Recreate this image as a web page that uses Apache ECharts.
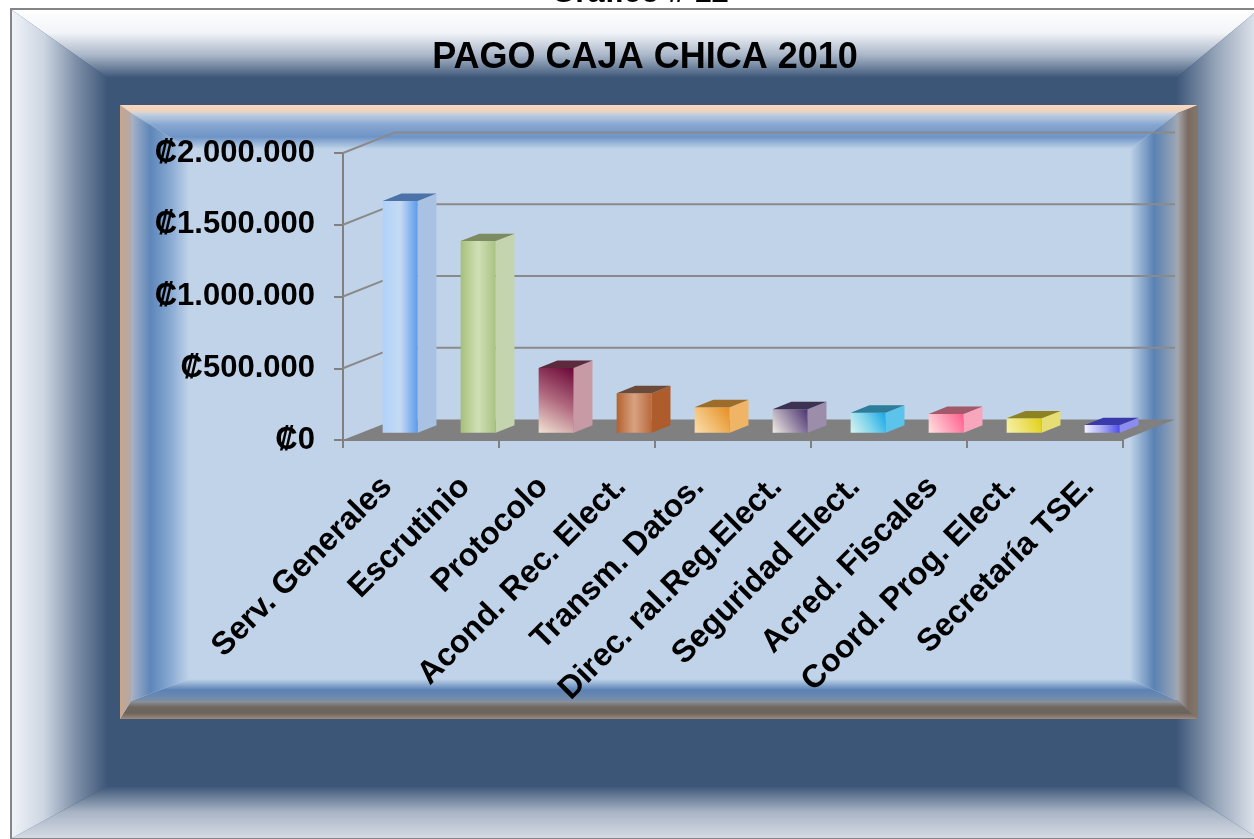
<!DOCTYPE html>
<html>
<head>
<meta charset="utf-8">
<title>Pago caja chica 2010</title>
<script src="https://cdn.jsdelivr.net/npm/echarts@6/dist/echarts.min.js"></script>
<style>
  html, body { margin: 0; padding: 0; background: #fff; }
  #chart { width: 1254px; height: 839px; }
</style>
</head>
<body>
<div id="chart"></div>
<script>
// datos del gráfico
const categories = ['Serv. Generales', 'Escrutinio', 'Protocolo', 'Acond. Rec. Elect.', 'Transm. Datos.',
  'Direc. ral.Reg.Elect.', 'Seguridad Elect.', 'Acred. Fiscales', 'Coord. Prog. Elect.', 'Secretaría TSE.']
const pagos = [1615000, 1336000, 452000, 276000, 178000, 164000, 140000, 131000, 101000, 54000]
const yTicks = [0, 500000, 1000000, 1500000, 2000000]

// falso 3D: desplazamiento de la pared del fondo
const DEPTH = { x: 52, y: -20.6 }
const BAR_Z0 = 0.35
const BAR_Z1 = 0.71
const BAR_FRAC = 0.45
const FONT = '"Liberation Sans", Arial, sans-serif'

// colores de cada barra: frente (degradado), lado, tapa
const barStyles = [
  { dir: [0, 0, 1, 0], front: ['#B0D2FA', '#C6DAF2', '#5C9AEE'], side: '#A9C2E4', top: '#4C73A8' },
  { dir: [0, 0, 1, 0], front: ['#A6C07A', '#D0E0B6', '#A8C282'], side: '#C4D4AE', top: '#7D8B62' },
  { dir: [0, 1, 1, 0], front: ['#F2E4D4', '#B0687E', '#6A0636'], side: '#C79AA6', top: '#5C2A3C' },
  { dir: [0, 0, 1, 0], front: ['#B4622E', '#D8A282', '#B8693A'], side: '#AE5C2C', top: '#6C4A3A' },
  { dir: [0, 1, 1, 0], front: ['#FADFAE', '#F0B868', '#E68E22'], side: '#F0B466', top: '#9C6C2A' },
  { dir: [0, 1, 1, 0], front: ['#F2EEE4', '#9C8EAA', '#4A326E'], side: '#9C8EAA', top: '#3C3252' },
  { dir: [0, 1, 1, 0], front: ['#DAF4F0', '#7ED4EC', '#16A6E6'], side: '#5CC4EA', top: '#2C7C9A' },
  { dir: [0, 1, 1, 0], front: ['#FFE2E2', '#FFA0B8', '#FF5C8C'], side: '#F7A6BC', top: '#A25A6A' },
  { dir: [0, 1, 1, 0], front: ['#F6F2A8', '#EEE066', '#E0D014'], side: '#E6DE72', top: '#8C8222' },
  { dir: [0, 0, 1, 0], front: ['#F2F2FF', '#A8A8F4', '#4E4EE8'], side: '#8C8CF0', top: '#3A3AAA' }
]

function grad (dir, colors) {
  const stops = colors.map((c, i) => ({ offset: i / (colors.length - 1), color: c }))
  return new echarts.graphic.LinearGradient(dir[0], dir[1], dir[2], dir[3], stops)
}

// marco biselado: cuatro trapecios con degradado de fuera hacia dentro
function bevel (x0, y0, x1, y1, w, c) {
  const li = x0 + w.l, ri = x1 - w.r, ti = y0 + w.t, bi = y1 - w.b
  const part = (pts, dir, colors) => ({
    type: 'polygon', z: -10, silent: true,
    shape: { points: pts },
    style: { fill: grad(dir, colors) }
  })
  return [
    part([[x0, y0], [x1, y0], [ri, ti], [li, ti]], [0, 0, 0, 1], c.t),
    part([[x0, y1], [x1, y1], [ri, bi], [li, bi]], [0, 1, 0, 0], c.b),
    part([[x0, y0], [li, ti], [li, bi], [x0, y1]], [0, 0, 1, 0], c.l),
    part([[x1, y0], [ri, ti], [ri, bi], [x1, y1]], [1, 0, 0, 0], c.r)
  ]
}

const background = [
  { type: 'rect', z: -11, silent: true, shape: { x: 12, y: 10, width: 1250, height: 829 }, style: { fill: '#3C5678' } },
  ...bevel(12, 10, 1258, 838, { l: 96, t: 68, r: 82, b: 52 }, {
    t: ['#FFFFFF', '#F2F4F8', '#A9B6C8', '#3C5678'],
    l: ['#F0F3F8', '#CCD5E1', '#7D8FA8', '#3C5678'],
    b: ['#D4DBE4', '#A8B4C4', '#3C5678'],
    r: ['#E2E7EE', '#97A6BA', '#3C5678']
  }),
  { type: 'rect', z: -9, silent: true, shape: { x: 11, y: 9, width: 1250, height: 830 }, style: { fill: 'none', stroke: '#858585', lineWidth: 2 } },
  // panel interior
  { type: 'rect', z: -11, silent: true, shape: { x: 120, y: 105, width: 1078, height: 614 }, style: { fill: '#C0D3E8' } },
  ...bevel(120, 105, 1198, 719, { l: 11, t: 8, r: 20, b: 18 }, {
    t: ['#FAD9BE', '#E6D0C2'],
    l: ['#C8A68C', '#B2A8AA'],
    b: ['#A08A7A', '#6B635D', '#70685F', '#8F959E'],
    r: ['#86766A', '#7A6C62', '#A6A4AA']
  }),
  ...bevel(131, 113, 1178, 701, { l: 58, t: 36, r: 48, b: 22 }, {
    t: ['#C8D4E4', '#86A6D0', '#6E94C6', '#C0D3E8'],
    l: ['#A8B4C8', '#5E86B8', '#86A8D2', '#C0D3E8'],
    b: ['#7A8EA8', '#5A82B6', '#C0D3E8'],
    r: ['#A0A8B4', '#5A82B4', '#C0D3E8']
  }),
  // "Gráfico # 12" queda casi fuera del recorte, como en el original
  {
    type: 'text', z: 5, silent: true, x: 640, y: -22,
    style: { text: 'Gráfico # 12', fill: '#000', font: 'bold 31px ' + FONT, align: 'center', verticalAlign: 'top' }
  }
]

const chart = echarts.init(document.getElementById('chart'), null, { renderer: 'canvas' })

const option = {
  animation: false,
  backgroundColor: '#fff',
  title: {
    text: 'PAGO CAJA CHICA 2010',
    left: 640,
    textAlign: 'center',
    top: 35,
    textStyle: { color: '#000', fontFamily: FONT, fontWeight: 'bold', fontSize: 36 }
  },
  graphic: { elements: background },
  grid: [
    { left: 343, right: 131, top: 153, bottom: 399 },
    { left: 348, right: 126, top: 153, bottom: 399 }
  ],
  xAxis: [
    {
      type: 'category',
      data: categories,
      axisLine: { show: true, lineStyle: { color: '#808080', width: 2 } },
      axisTick: { show: true, length: 8, lineStyle: { color: '#808080', width: 2 } },
      axisLabel: { show: false }
    },
    {
      type: 'category',
      gridIndex: 1,
      data: categories,
      axisLine: { show: false },
      axisTick: { show: false },
      axisLabel: {
        interval: 0,
        rotate: 45,
        margin: 42,
        color: '#000',
        fontFamily: FONT,
        fontWeight: 'bold',
        fontSize: 32
      }
    }
  ],
  yAxis: [
    {
      type: 'value',
      min: 0,
      max: 2000000,
      interval: 500000,
      axisLine: { show: true, lineStyle: { color: '#808080', width: 2 } },
      axisTick: { show: true, length: 9, lineStyle: { color: '#808080', width: 2 } },
      splitLine: { show: false },
      axisLabel: {
        margin: 28,
        color: '#000',
        fontFamily: FONT,
        fontWeight: 'bold',
        fontSize: 31,
        formatter: v => '₡' + String(v).replace(/\B(?=(\d{3})+(?!\d))/g, '.')
      }
    },
    { type: 'value', gridIndex: 1, min: 0, max: 2000000, show: false }
  ],
  series: [
    {
      // paredes y piso
      type: 'custom',
      z: 1,
      silent: true,
      data: yTicks.map(v => [0, v]),
      encode: { x: 0, y: 1 },
      renderItem (params, api) {
        const v = api.value(1)
        const bw = api.size([1, 0])[0]
        const p = api.coord([0, v])
        const L = p[0] - bw / 2
        const R = api.coord([categories.length - 1, v])[0] + bw / 2
        const y = p[1]
        if (v === 0) {
          return {
            type: 'polygon',
            shape: { points: [[L, y], [R, y], [R + DEPTH.x, y + DEPTH.y], [L + DEPTH.x, y + DEPTH.y]] },
            style: { fill: '#808080' }
          }
        }
        return {
          type: 'polyline',
          shape: { points: [[L, y], [L + DEPTH.x, y + DEPTH.y], [R + DEPTH.x, y + DEPTH.y]] },
          style: { fill: null, stroke: '#8A8A8A', lineWidth: 2 }
        }
      }
    },
    {
      // columnas
      type: 'custom',
      z: 3,
      data: pagos.map((v, i) => [i, v]),
      encode: { x: 0, y: 1 },
      renderItem (params, api) {
        const i = api.value(0)
        const v = api.value(1)
        const c0 = api.coord([i, 0])
        const c1 = api.coord([i, v])
        const bw = api.size([1, 0])[0] * BAR_FRAC
        const dx = DEPTH.x * (BAR_Z1 - BAR_Z0)
        const dy = DEPTH.y * (BAR_Z1 - BAR_Z0)
        const xl = c0[0] - bw / 2 + DEPTH.x * BAR_Z0
        const xr = xl + bw
        const yb = c0[1] + DEPTH.y * BAR_Z0
        const yt = c1[1] + DEPTH.y * BAR_Z0
        const s = barStyles[params.dataIndex]
        return {
          type: 'group',
          children: [
            { type: 'polygon', shape: { points: [[xl, yb], [xr, yb], [xr, yt], [xl, yt]] }, style: { fill: grad(s.dir, s.front) } },
            { type: 'polygon', shape: { points: [[xr, yb], [xr + dx, yb + dy], [xr + dx, yt + dy], [xr, yt]] }, style: { fill: s.side } },
            { type: 'polygon', shape: { points: [[xl, yt], [xr, yt], [xr + dx, yt + dy], [xl + dx, yt + dy]] }, style: { fill: s.top } }
          ]
        }
      }
    }
  ]
}

chart.setOption(option)
</script>
</body>
</html>
